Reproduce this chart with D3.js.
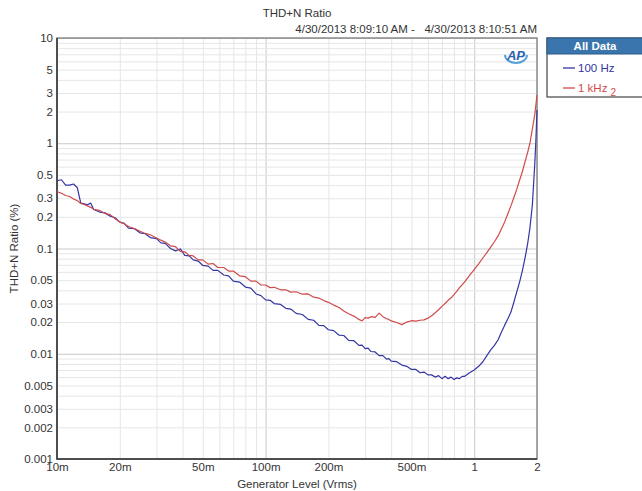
<!DOCTYPE html>
<html>
<head>
<meta charset="utf-8">
<script src="https://cdn.jsdelivr.net/npm/d3@7"></script>
<style>
  body { margin: 0; background: #fff; }
  text { font-family: "Liberation Sans", Arial, sans-serif; }
</style>
</head>
<body>
<div id="chart"></div>
<script>
// Generator level (Vrms) sampled for both sweeps
var levels = [0.0100,0.0105,0.0110,0.0115,0.0120,0.0125,0.0130,0.0135,0.0140,0.0145,0.0150,0.0160,0.0170,0.0180,0.0190,
  0.0200,0.0210,0.0220,0.0235,0.0250,0.0265,0.0280,0.0300,0.0315,0.0330,0.0350,0.0370,0.0390,0.0410,0.0430,0.0450,0.0475,
  0.0500,0.0530,0.0560,0.0590,0.0630,0.0665,0.0700,0.0750,0.0800,0.0850,0.0900,0.0950,0.100,0.105,0.110,0.118,0.125,0.132,
  0.140,0.150,0.160,0.170,0.180,0.190,0.200,0.212,0.225,0.237,0.250,0.265,0.280,0.290,0.300,0.310,0.320,0.335,0.350,0.365,
  0.380,0.390,0.400,0.425,0.450,0.475,0.500,0.525,0.550,0.575,0.600,0.625,0.650,0.675,0.700,0.725,0.750,0.775,0.800,0.825,
  0.850,0.875,0.900,0.950,1.000,1.050,1.100,1.150,1.200,1.250,1.300,1.350,1.400,1.450,1.500,1.550,1.600,1.650,1.700,1.750,
  1.800,1.850,1.900,1.950,1.975,2.000];

// THD+N ratio (%) - 100 Hz
var thd100 = [0.44,0.45,0.40,0.40,0.41,0.38,0.27,0.265,0.26,0.27,0.235,0.222,0.218,0.203,0.196,
  0.178,0.173,0.156,0.154,0.141,0.138,0.127,0.124,0.113,0.112,0.100,0.095,0.099,0.086,0.085,0.078,0.076,
  0.069,0.068,0.062,0.062,0.056,0.055,0.049,0.048,0.043,0.042,0.037,0.0357,0.0325,0.0322,0.0300,0.0294,0.0270,0.0266,
  0.0242,0.0236,0.0212,0.0208,0.0186,0.0185,0.0169,0.0166,0.0150,0.0149,0.0134,0.0133,0.0120,0.0121,0.0112,0.0113,0.0105,0.0104,0.0096,0.0096,
  0.0089,0.0090,0.0085,0.0084,0.0078,0.0076,0.0071,0.0071,0.0066,0.0067,0.0063,0.0063,0.0060,0.0062,0.0058,0.0061,0.0058,0.0060,0.0057,0.0059,
  0.0058,0.0061,0.0061,0.0066,0.0070,0.0076,0.0084,0.0096,0.0109,0.0120,0.0135,0.0160,0.0187,0.0215,0.0249,0.0310,0.0387,0.0480,0.0611,0.080,
  0.108,0.157,0.259,0.62,1.05,2.07];

// THD+N ratio (%) - 1 kHz
var thd1k = [0.347,0.335,0.319,0.312,0.295,0.285,0.268,0.262,0.254,0.246,0.236,0.230,0.215,0.210,0.192,
  0.178,0.172,0.162,0.155,0.146,0.139,0.135,0.126,0.120,0.115,0.106,0.104,0.094,0.093,0.086,0.085,0.078,
  0.078,0.071,0.072,0.066,0.066,0.061,0.061,0.055,0.054,0.049,0.049,0.045,0.0450,0.0425,0.0428,0.0405,0.0405,0.0385,
  0.0388,0.0368,0.0370,0.0345,0.0338,0.0320,0.0308,0.0290,0.0275,0.0255,0.0240,0.0228,0.0212,0.0205,0.0220,0.0218,0.0225,0.0222,0.0243,0.0225,
  0.0215,0.0212,0.0205,0.0198,0.0189,0.0200,0.0206,0.0204,0.0208,0.0210,0.0218,0.0230,0.0245,0.0262,0.0282,0.0300,0.0322,0.0340,0.0365,0.0392,
  0.0425,0.0452,0.0481,0.0555,0.0631,0.0715,0.0812,0.0915,0.103,0.116,0.131,0.153,0.179,0.214,0.254,0.305,0.367,0.445,0.533,0.66,
  0.807,1.00,1.36,1.85,2.30,2.87];

var yTicks = [10,5,3,2,1,0.5,0.3,0.2,0.1,0.05,0.03,0.02,0.01,0.005,0.003,0.002,0.001];
var xTicks = [0.01,0.02,0.05,0.1,0.2,0.5,1,2];
var xTickLabels = ["10m","20m","50m","100m","200m","500m","1","2"];

var seriesNames = ["100 Hz","1 kHz"];
var seriesColors = ["#3535a3","#cf4b4b"];

var W = 642, H = 491;
var margin = {top: 38, right: 105, bottom: 32, left: 57};
var width = W - margin.left - margin.right;
var height = H - margin.top - margin.bottom;

var svg = d3.select("#chart").append("svg")
    .attr("width", W)
    .attr("height", H);

var x = d3.scaleLog().domain([0.01, 2]).range([0, width]);
var y = d3.scaleLog().domain([0.001, 10]).range([height, 0]);

var g = svg.append("g")
    .attr("transform", "translate(" + margin.left + "," + margin.top + ")");

function isDecade(v) {
  var l = Math.log10(v);
  return Math.abs(l - Math.round(l)) < 1e-6;
}

// GRID - vertical
g.append("g")
    .attr("transform", "translate(0," + height + ")")
    .call(d3.axisBottom(x).tickValues(x.ticks()).tickSize(-height).tickFormat(""))
    .call(function(a) { a.select(".domain").remove(); })
    .selectAll("line")
    .attr("stroke", function(d) { return isDecade(d) ? "#c9c9c9" : "#e6e6e6"; });

// GRID - horizontal
g.append("g")
    .call(d3.axisLeft(y).tickValues(y.ticks()).tickSize(-width).tickFormat(""))
    .call(function(a) { a.select(".domain").remove(); })
    .selectAll("line")
    .attr("stroke", function(d) { return isDecade(d) ? "#c9c9c9" : "#e6e6e6"; });

// frame
g.append("rect")
    .attr("width", width).attr("height", height)
    .attr("fill", "none").attr("stroke", "#8a8a8a").attr("stroke-width", 1.5);
g.append("path")
    .attr("d", "M0,0V" + height + "H" + width)
    .attr("fill", "none").attr("stroke", "#333").attr("stroke-width", 1.5);

// AXIS labels
g.append("g")
    .call(d3.axisLeft(y).tickValues(yTicks).tickSize(0).tickPadding(4)
        .tickFormat(function(d) { return d3.format("~g")(d); }))
    .call(function(a) { a.select(".domain").remove(); })
    .selectAll("text")
    .attr("font-size", 11.5)
    .attr("fill", "#333")
    .attr("font-family", "Liberation Sans, Arial, sans-serif");

g.append("g")
    .attr("transform", "translate(0," + height + ")")
    .call(d3.axisBottom(x).tickValues(xTicks).tickSize(0).tickPadding(4)
        .tickFormat(function(d, i) { return xTickLabels[i]; }))
    .call(function(a) { a.select(".domain").remove(); })
    .selectAll("text")
    .attr("font-size", 11.5)
    .attr("fill", "#333")
    .attr("font-family", "Liberation Sans, Arial, sans-serif");

// curves
var line = d3.line()
    .x(function(d) { return x(d[0]); })
    .y(function(d) { return y(d[1]); });

[thd100, thd1k].forEach(function(vals, i) {
  g.append("path")
      .datum(levels.map(function(l, j) { return [l, vals[j]]; }))
      .attr("fill", "none")
      .attr("stroke", seriesColors[i])
      .attr("stroke-width", 1.2)
      .attr("stroke-linejoin", "round")
      .attr("d", line);
});

// titles
svg.append("text")
    .attr("x", 297).attr("y", 17)
    .attr("text-anchor", "middle")
    .attr("font-size", 11.5).attr("fill", "#333")
    .text("THD+N Ratio");
svg.append("text")
    .attr("x", margin.left + width).attr("y", 33)
    .attr("text-anchor", "end")
    .attr("font-size", 11.5).attr("fill", "#333")
    .style("white-space", "pre")
    .text("4/30/2013 8:09:10 AM -   4/30/2013 8:10:51 AM");
svg.append("text")
    .attr("x", margin.left + width / 2).attr("y", 488)
    .attr("text-anchor", "middle")
    .attr("font-size", 11.5).attr("fill", "#333")
    .text("Generator Level (Vrms)");
svg.append("text")
    .attr("transform", "translate(18," + (margin.top + height / 2) + ") rotate(-90)")
    .attr("text-anchor", "middle")
    .attr("font-size", 11.5).attr("fill", "#333")
    .text("THD+N Ratio (%)");

// AP logo
var logo = svg.append("g").attr("transform", "translate(516,55)");
logo.append("ellipse")
    .attr("rx", 11).attr("ry", 8)
    .attr("fill", "none").attr("stroke", "#5aa0d8").attr("stroke-width", 2)
    .attr("stroke-dasharray", "30,40");
logo.append("text")
    .attr("text-anchor", "middle").attr("y", 5)
    .attr("font-size", 13).attr("font-weight", "bold").attr("font-style", "italic")
    .attr("fill", "#2a62ad")
    .text("AP");

// legend
var leg = svg.append("g").attr("transform", "translate(547,38)");
leg.append("rect")
    .attr("width", 100).attr("height", 59)
    .attr("fill", "#fff").attr("stroke", "#444").attr("stroke-width", 1.2);
leg.append("rect")
    .attr("width", 100).attr("height", 16)
    .attr("fill", "#3a76ad").attr("stroke", "#2a5a88");
leg.append("text")
    .attr("x", 48).attr("y", 12)
    .attr("text-anchor", "middle")
    .attr("font-size", 11.5).attr("font-weight", "bold").attr("fill", "#fff")
    .text("All Data");

seriesNames.forEach(function(name, i) {
  var row = leg.append("g").attr("transform", "translate(0," + (30 + i * 20) + ")");
  row.append("line")
      .attr("x1", 16).attr("x2", 28)
      .attr("stroke", seriesColors[i]).attr("stroke-width", 1.3);
  var t = row.append("text")
      .attr("x", 31).attr("y", 4)
      .attr("font-size", 11.5).attr("fill", seriesColors[i])
      .text(name);
  if (i == 1) {
    t.append("tspan").attr("dx", 3).attr("dy", 4).attr("font-size", 10).text("2");
  }
});
</script>
</body>
</html>
